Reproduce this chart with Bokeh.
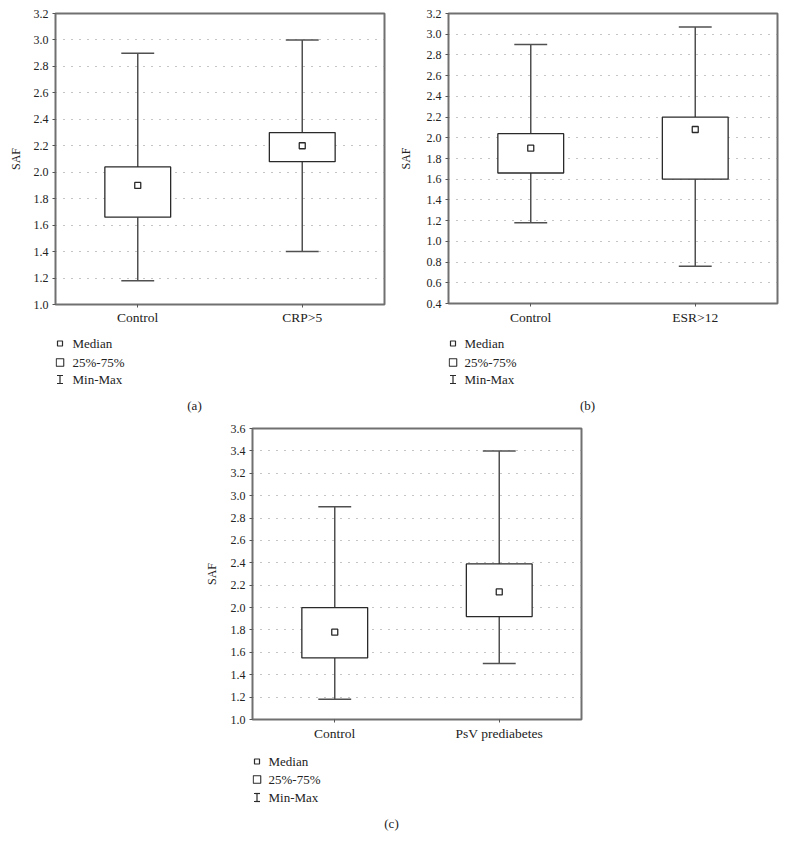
from bokeh.plotting import figure
from bokeh.models import (ColumnDataSource, FactorRange, Range1d, FixedTicker,
                          Spacer, NumeralTickFormatter)
from bokeh.layouts import column, row
from bokeh.transform import dodge
from bokeh.core.properties import value
from bokeh.embed import file_html
from bokeh.resources import INLINE

# ---------------- data ----------------
cats_a = ["Control", "CRP>5"]
min_a = [1.18, 1.40]
q1_a = [1.66, 2.08]
med_a = [1.90, 2.20]
q3_a = [2.04, 2.30]
max_a = [2.90, 3.00]

cats_b = ["Control", "ESR>12"]
min_b = [1.18, 0.76]
q1_b = [1.66, 1.60]
med_b = [1.90, 2.08]
q3_b = [2.04, 2.20]
max_b = [2.90, 3.07]

cats_c = ["Control", "PsV prediabetes"]
min_c = [1.18, 1.50]
q1_c = [1.55, 1.92]
med_c = [1.78, 2.14]
q3_c = [2.00, 2.39]
max_c = [2.90, 3.40]

yrange_a = (1.0, 3.2)
yrange_b = (0.4, 3.2)
yrange_c = (1.0, 3.6)
ytick_step = 0.2

legend_labels = ["Median", "25%-75%", "Min-Max"]
captions = ["(a)", "(b)", "(c)"]

FONT = "Liberation Serif"
TXT = "#222222"
DARK = "#2a2a2a"


def make_panel(cats, mn, q1, med, q3, mx, yr, width, height, bl, br, bt, bb,
               label_standoff, x_standoff):
    p = figure(x_range=FactorRange(*cats, range_padding=0),
               y_range=Range1d(*yr), width=width, height=height,
               output_backend="svg", toolbar_location=None,
               min_border_left=bl, min_border_right=br,
               min_border_top=bt, min_border_bottom=bb)
    y0, y1 = yr

    src = ColumnDataSource(dict(cat=cats, mn=mn, q1=q1, med=med, q3=q3, mx=mx))
    wcol = "#505050"
    p.segment(x0="cat", y0="mx", x1="cat", y1="q3", source=src,
              line_color=wcol, line_width=1.5)
    p.segment(x0="cat", y0="q1", x1="cat", y1="mn", source=src,
              line_color=wcol, line_width=1.5)
    p.segment(x0=dodge("cat", -0.1, range=p.x_range), y0="mx",
              x1=dodge("cat", 0.1, range=p.x_range), y1="mx", source=src,
              line_color=wcol, line_width=1.5)
    p.segment(x0=dodge("cat", -0.1, range=p.x_range), y0="mn",
              x1=dodge("cat", 0.1, range=p.x_range), y1="mn", source=src,
              line_color=wcol, line_width=1.5)
    p.vbar(x="cat", top="q3", bottom="q1", width=0.4, source=src,
           fill_color="white", line_color=DARK, line_width=1.3)
    p.scatter(x="cat", y="med", source=src, marker="square", size=6,
              fill_color="white", line_color=DARK, line_width=1.3)

    n = int(round((y1 - y0) / ytick_step))
    ticks = [round(y0 + i * ytick_step, 1) for i in range(n + 1)]
    p.yaxis.ticker = FixedTicker(ticks=ticks)
    p.yaxis.formatter = NumeralTickFormatter(format="0.0")
    p.yaxis.axis_label = "SAF"
    p.yaxis.axis_label_text_font = FONT
    p.yaxis.axis_label_text_font_style = "normal"
    p.yaxis.axis_label_text_font_size = "12px"
    p.yaxis.axis_label_text_color = TXT
    p.yaxis.axis_label_standoff = label_standoff
    for ax in (p.xaxis[0], p.yaxis[0]):
        ax.major_label_text_font = FONT
        ax.major_label_text_color = TXT
        ax.axis_line_color = None
        ax.major_tick_out = 3
        ax.major_tick_in = 0
        ax.major_tick_line_color = "#555555"
        ax.minor_tick_line_color = None
    p.yaxis.major_label_text_font_size = "12px"
    p.yaxis.major_label_standoff = 4
    p.xaxis.major_label_text_font_size = "13.5px"
    p.xaxis.major_label_standoff = x_standoff

    p.xgrid.grid_line_color = None
    p.ygrid.grid_line_color = "#8a8a8a"
    p.ygrid.grid_line_dash = "1 7"
    p.ygrid.grid_line_width = 1

    p.outline_line_color = "#707070"
    p.outline_line_width = 2
    p.background_fill_color = "white"
    p.border_fill_color = "white"
    return p


def make_legend(width, height, bl, br, mx, tx, ys, cap_x, cap_y, caption):
    fw = width - bl - br
    lg = figure(width=width, height=height, x_range=Range1d(0, fw),
                y_range=Range1d(height, 0), output_backend="svg",
                toolbar_location=None, x_axis_type=None, y_axis_type=None,
                min_border_left=bl, min_border_right=br,
                min_border_top=0, min_border_bottom=0)
    lg.grid.visible = False
    lg.outline_line_color = None
    lg.background_fill_color = "white"
    lg.border_fill_color = "white"
    # median symbol
    lg.scatter(x=[mx], y=[ys[0]], marker="square", size=5,
               fill_color="white", line_color=DARK, line_width=1.2)
    # 25%-75% symbol
    lg.scatter(x=[mx], y=[ys[1]], marker="square", size=7.5,
               fill_color="white", line_color=DARK, line_width=1.1)
    # min-max symbol (I-beam)
    lg.segment(x0=[mx, mx - 3, mx - 3], y0=[ys[2] - 4, ys[2] - 4, ys[2] + 4],
               x1=[mx, mx + 3, mx + 3], y1=[ys[2] + 4, ys[2] - 4, ys[2] + 4],
               line_color=DARK, line_width=1.2)
    lg.text(x=[tx] * 3, y=ys, text=legend_labels, text_font=value(FONT),
            text_font_size="13px", text_color=TXT, text_align="left",
            text_baseline="middle")
    lg.text(x=[cap_x], y=[cap_y], text=[caption], text_font=value(FONT),
            text_font_size="13px", text_color=TXT, text_align="center",
            text_baseline="middle")
    return lg


pa = make_panel(cats_a, min_a, q1_a, med_a, q3_a, max_a, yrange_a,
                393, 329, 55, 9, 13, 25, 8, 2)
pb = make_panel(cats_b, min_b, q1_b, med_b, q3_b, max_b, yrange_b,
                387, 329, 55, 3, 13, 26, 11, 3)
pc = make_panel(cats_c, min_c, q1_c, med_c, q3_c, max_c, yrange_c,
                386, 329, 55, 2, 13, 25, 9, 3)

la = make_legend(393, 86, 55, 9, 4.5, 17, [14, 33, 50], 139, 76, captions[0])
lb = make_legend(387, 86, 55, 3, 4.5, 16, [14, 33, 50], 139, 76, captions[1])
lc = make_legend(386, 95, 55, 2, 4.5, 16, [17, 35, 53], 139, 79, captions[2])

layout = column(row(column(pa, la), column(pb, lb)),
                row(Spacer(width=197, height=424), column(pc, lc)))

open("out.html", "w").write(file_html(layout, INLINE))
